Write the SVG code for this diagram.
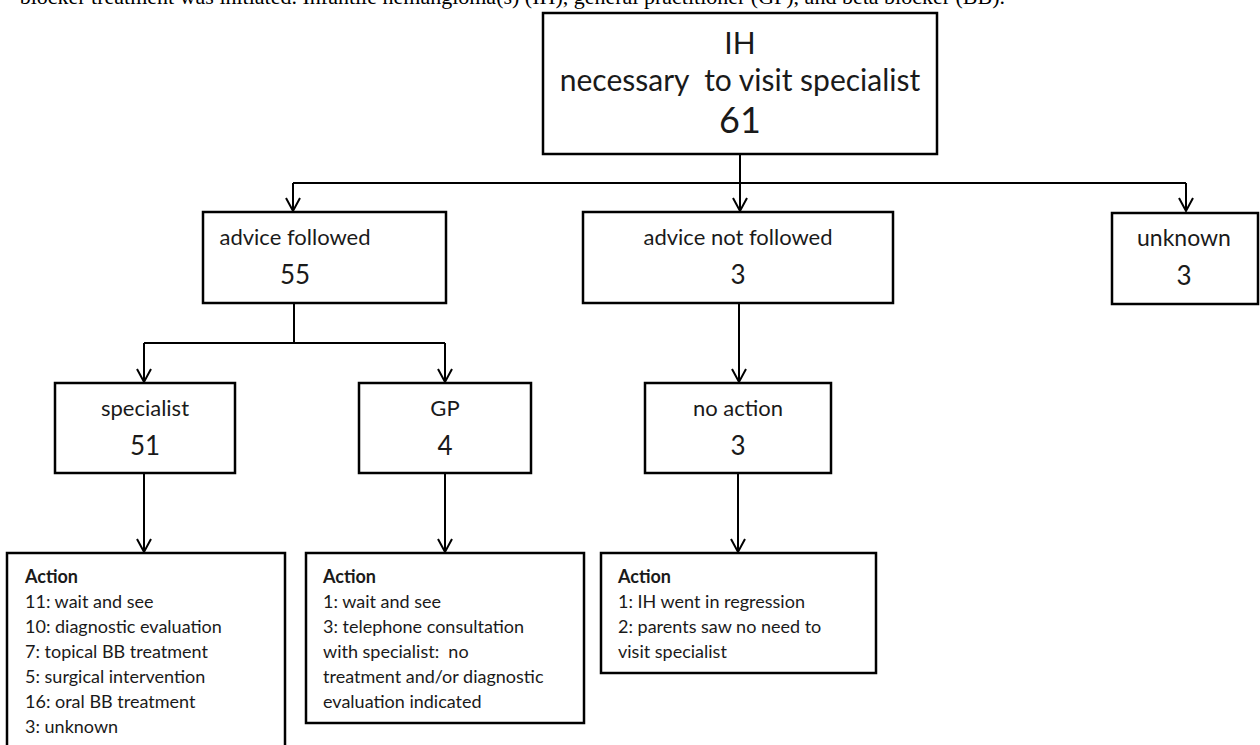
<svg xmlns="http://www.w3.org/2000/svg" width="1260" height="745" viewBox="0 0 1260 745">
  <defs>
    <style>
      .box { fill: #ffffff; stroke: #000000; stroke-width: 2.5; }
      .lbl { font-family: Lato, "Liberation Sans", sans-serif; fill: #1a1a1a; text-anchor: middle; }
      .act { font-family: Lato, "Liberation Sans", sans-serif; fill: #1a1a1a; font-size: 18px; }
      .actb { font-weight: bold; }
      .conn { fill: none; stroke: #000000; stroke-width: 2; }
      .cap { font-family: "Liberation Serif", serif; font-size: 22px; fill: #000000; }
    </style>
    <marker id="arr" markerUnits="userSpaceOnUse" markerWidth="20" markerHeight="20" refX="0" refY="0" viewBox="-15 -10 17 20" orient="auto">
      <path d="M-13,-7 L0,0 L-13,7" fill="none" stroke="#000" stroke-width="2"/>
    </marker>
  </defs>
  <rect width="1260" height="745" fill="#ffffff"/>
  <text class="cap" x="1005" y="4" text-anchor="end">blocker treatment was initiated. Infantile hemangioma(s) (IH), general practitioner (GP), and beta blocker (BB).</text>

  <g id="connectors">
    <path class="conn" d="M740,154 L740,211" marker-end="url(#arr)"/>
    <path class="conn" d="M293,183 L1186,183"/>
    <path class="conn" d="M293,183 L293,211" marker-end="url(#arr)"/>
    <path class="conn" d="M1186,183 L1186,211" marker-end="url(#arr)"/>
    <path class="conn" d="M294,303 L294,343"/>
    <path class="conn" d="M144,343 L445,343"/>
    <path class="conn" d="M144,343 L144,382" marker-end="url(#arr)"/>
    <path class="conn" d="M445,343 L445,382" marker-end="url(#arr)"/>
    <path class="conn" d="M739,303 L739,382" marker-end="url(#arr)"/>
    <path class="conn" d="M144,473 L144,552" marker-end="url(#arr)"/>
    <path class="conn" d="M445,473 L445,552" marker-end="url(#arr)"/>
    <path class="conn" d="M738,473 L738,552" marker-end="url(#arr)"/>
  </g>

  <g id="node-ih">
    <rect class="box" x="543" y="13" width="394" height="141" stroke-width="3"/>
    <text class="lbl" x="740" y="54" font-size="30">IH</text>
    <text class="lbl" x="740" y="91" font-size="30" xml:space="preserve">necessary  to visit specialist</text>
    <text class="lbl" x="740" y="133" font-size="36">61</text>
  </g>

  <g id="node-advice-followed">
    <rect class="box" x="203" y="212" width="243" height="91"/>
    <text class="lbl" x="295" y="245" font-size="22">advice followed</text>
    <text class="lbl" x="295" y="284" font-size="26">55</text>
  </g>

  <g id="node-advice-not-followed">
    <rect class="box" x="583" y="212" width="310" height="91"/>
    <text class="lbl" x="738" y="245" font-size="22">advice not followed</text>
    <text class="lbl" x="738" y="284" font-size="26">3</text>
  </g>

  <g id="node-unknown">
    <rect class="box" x="1112" y="213" width="146" height="91"/>
    <text class="lbl" x="1184" y="246" font-size="23">unknown</text>
    <text class="lbl" x="1184" y="285" font-size="26">3</text>
  </g>

  <g id="node-specialist">
    <rect class="box" x="55" y="383" width="180" height="90"/>
    <text class="lbl" x="145" y="416" font-size="22">specialist</text>
    <text class="lbl" x="145" y="455" font-size="26">51</text>
  </g>

  <g id="node-gp">
    <rect class="box" x="359" y="383" width="172" height="90"/>
    <text class="lbl" x="445" y="416" font-size="22">GP</text>
    <text class="lbl" x="445" y="455" font-size="26">4</text>
  </g>

  <g id="node-no-action">
    <rect class="box" x="645" y="383" width="186" height="90"/>
    <text class="lbl" x="738" y="416" font-size="22">no action</text>
    <text class="lbl" x="738" y="455" font-size="26">3</text>
  </g>

  <g id="node-action-specialist">
    <rect class="box" x="7" y="553" width="278" height="200"/>
    <text class="act actb" x="25" y="583">Action</text>
    <text class="act" x="25" y="608">11: wait and see</text>
    <text class="act" x="25" y="633">10: diagnostic evaluation</text>
    <text class="act" x="25" y="658">7: topical BB treatment</text>
    <text class="act" x="25" y="683">5: surgical intervention</text>
    <text class="act" x="25" y="708">16: oral BB treatment</text>
    <text class="act" x="25" y="733">3: unknown</text>
  </g>

  <g id="node-action-gp">
    <rect class="box" x="306" y="553" width="278" height="170"/>
    <text class="act actb" x="323" y="583">Action</text>
    <text class="act" x="323" y="608">1: wait and see</text>
    <text class="act" x="323" y="633">3: telephone consultation</text>
    <text class="act" x="323" y="658" xml:space="preserve">with specialist:  no</text>
    <text class="act" x="323" y="683">treatment and/or diagnostic</text>
    <text class="act" x="323" y="708">evaluation indicated</text>
  </g>

  <g id="node-action-no-action">
    <rect class="box" x="601" y="553" width="275" height="120"/>
    <text class="act actb" x="618" y="583">Action</text>
    <text class="act" x="618" y="608">1: IH went in regression</text>
    <text class="act" x="618" y="633">2: parents saw no need to</text>
    <text class="act" x="618" y="658">visit specialist</text>
  </g>
</svg>
